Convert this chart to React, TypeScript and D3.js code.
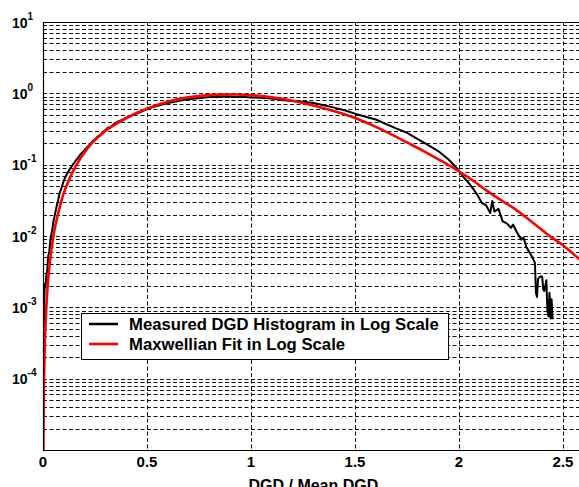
import React from "react";
import * as d3 from "d3";

const xTicks = [0, 0.5, 1, 1.5, 2, 2.5];
const xTickLabels = ["0", "0.5", "1", "1.5", "2", "2.5"];
const yExponents = [1, 0, -1, -2, -3, -4];
const xLabel = "DGD / Mean DGD";
const legendLabels = ["Measured DGD Histogram in Log Scale", "Maxwellian Fit in Log Scale"];

// Maxwellian fit
const fitX = [0, 0.003, 0.005, 0.008, 0.016, 0.025, 0.04, 0.056, 0.075, 0.096, 0.136, 0.184, 0.232, 0.296, 0.37, 0.45, 0.5, 0.6, 0.69, 0.77, 0.85, 0.93, 1.01, 1.1, 1.19, 1.27, 1.35, 1.43, 1.51, 1.59, 1.67, 1.75, 1.83, 1.91, 1.99, 2.06, 2.13, 2.2, 2.26, 2.32, 2.38, 2.44, 2.5, 2.55, 2.6];
const fitY = [0.000001, 0.000035, 0.0001, 0.00026, 0.001, 0.0025, 0.0063, 0.0125, 0.022, 0.037, 0.072, 0.128, 0.195, 0.29, 0.4, 0.53, 0.61, 0.76, 0.87, 0.93, 0.96, 0.965, 0.94, 0.88, 0.8, 0.71, 0.62, 0.53, 0.44, 0.35, 0.27, 0.205, 0.155, 0.115, 0.084, 0.062, 0.044, 0.032, 0.025, 0.0185, 0.0135, 0.0098, 0.0074, 0.0056, 0.0042];

// Measured histogram
const histX = [0.006, 0.006, 0.008, 0.012, 0.016, 0.02, 0.025, 0.03, 0.035, 0.04, 0.045, 0.05, 0.056, 0.064, 0.072, 0.08, 0.088, 0.096, 0.104, 0.112, 0.12, 0.128, 0.136, 0.148, 0.16, 0.168, 0.18, 0.192, 0.204, 0.216, 0.228, 0.24, 0.252, 0.264, 0.276, 0.29, 0.3, 0.3125, 0.325, 0.34, 0.36, 0.38, 0.4, 0.42, 0.44, 0.46, 0.48, 0.5, 0.53, 0.56, 0.6, 0.64, 0.68, 0.72, 0.76, 0.8, 0.84, 0.88, 0.92, 0.96, 1.0, 1.04, 1.08, 1.12, 1.16, 1.2, 1.25, 1.3, 1.35, 1.4, 1.45, 1.5, 1.55, 1.6, 1.65, 1.7, 1.75, 1.8, 1.85, 1.9, 1.95, 2.0, 2.02, 2.05, 2.07, 2.09, 2.11, 2.13, 2.15, 2.16, 2.17, 2.19, 2.21, 2.23, 2.25, 2.26, 2.28, 2.3, 2.31, 2.325, 2.34, 2.35, 2.365, 2.37, 2.375, 2.38, 2.39, 2.4, 2.405, 2.41, 2.42, 2.425, 2.43, 2.435, 2.44, 2.445, 2.45];
const histY = [0.0005, 0.0012, 0.0021, 0.0019, 0.0028, 0.0032, 0.0052, 0.006, 0.0085, 0.0105, 0.0125, 0.016, 0.019, 0.025, 0.031, 0.04, 0.046, 0.055, 0.064, 0.071, 0.078, 0.086, 0.093, 0.104, 0.117, 0.124, 0.14, 0.15, 0.166, 0.18, 0.195, 0.215, 0.228, 0.25, 0.262, 0.29, 0.305, 0.33, 0.335, 0.37, 0.4, 0.425, 0.455, 0.48, 0.51, 0.535, 0.565, 0.6, 0.64, 0.68, 0.73, 0.77, 0.81, 0.84, 0.86, 0.885, 0.89, 0.9, 0.89, 0.895, 0.875, 0.87, 0.85, 0.835, 0.8, 0.78, 0.76, 0.73, 0.68, 0.63, 0.58, 0.52, 0.47, 0.43, 0.37, 0.32, 0.28, 0.23, 0.19, 0.155, 0.118, 0.083, 0.068, 0.054, 0.045, 0.037, 0.029, 0.027, 0.021, 0.031, 0.022, 0.024, 0.016, 0.015, 0.013, 0.0145, 0.011, 0.0089, 0.0095, 0.0069, 0.0058, 0.0052, 0.0042, 0.0016, 0.0014, 0.0025, 0.0027, 0.0027, 0.0018, 0.0017, 0.0024, 0.0009, 0.00075, 0.0016, 0.0007, 0.0013, 0.00068];

const W = 579;
const H = 487;
const left = 43;
const top = 22;
const bottom = 450;
const xMax = 2.6;
const unitX = 208;
const right = left + xMax * unitX;

export default function App() {
  const x = d3.scaleLinear().domain([0, xMax]).range([left, right]);
  const y = d3.scaleLog().domain([1e-5, 10]).range([bottom, top]);

  const minorVals: number[] = [];
  for (let e = -5; e < 1; e++) {
    for (let m = 1; m <= 9; m++) {
      const v = m * Math.pow(10, e);
      if (v > 1e-5) minorVals.push(v);
    }
  }

  const fitPath =
    d3
      .line<[number, number]>()
      .x((d) => x(d[0]))
      .y((d) => y(Math.max(d[1], 1e-7)))
      .curve(d3.curveMonotoneX)(fitX.map((v, i) => [v, fitY[i]] as [number, number])) || "";
  const histPath =
    d3
      .line<[number, number]>()
      .x((d) => x(d[0]))
      .y((d) => y(d[1]))(histX.map((v, i) => [v, histY[i]] as [number, number])) || "";

  const font = "'Liberation Sans', Arial, sans-serif";
  const gridStroke = "#111";

  const lx = 81, ly = 313, lw = 367, lh = 46;

  return (
    <svg
      width={W}
      height={H}
      style={{ position: "absolute", left: 0, top: 0, background: "#fff" }}
      fontFamily={font}
      fontWeight="bold"
    >
      <defs>
        <clipPath id="plot">
          <rect x={left} y={top} width={right - left} height={bottom - top} />
        </clipPath>
      </defs>
      <rect x={0} y={0} width={W} height={H} fill="#fff" />
      {minorVals.map((v, i) => (
        <line
          key={"h" + i}
          x1={left}
          x2={right}
          y1={Math.round(y(v)) + 0.5}
          y2={Math.round(y(v)) + 0.5}
          stroke={gridStroke}
          strokeWidth={1}
          strokeDasharray="4,2.5"
        />
      ))}
      {xTicks.slice(1).map((t, i) => (
        <line
          key={"v" + i}
          x1={Math.round(x(t)) + 0.5}
          x2={Math.round(x(t)) + 0.5}
          y1={top}
          y2={bottom}
          stroke={gridStroke}
          strokeWidth={1}
          strokeDasharray="4,2.5"
        />
      ))}
      <g clipPath="url(#plot)">
        <path d={histPath} fill="none" stroke="#000" strokeWidth={2} strokeLinejoin="round" />
        <path d={fitPath} fill="none" stroke="#ff0000" strokeWidth={2.6} />
      </g>
      <line x1={left} x2={W} y1={top + 0.5} y2={top + 0.5} stroke="#000" strokeWidth={1.2} />
      <line x1={left} x2={W} y1={bottom + 0.5} y2={bottom + 0.5} stroke="#000" strokeWidth={1.2} />
      <line x1={left + 0.5} x2={left + 0.5} y1={top} y2={bottom} stroke="#000" strokeWidth={1.2} />
      {xTicks.map((t, i) => (
        <text key={"xt" + i} x={x(t)} y={467} textAnchor="middle" fontSize={15} fill="#000">
          {xTickLabels[i]}
        </text>
      ))}
      <text x={(left + right) / 2} y={491} textAnchor="middle" fontSize={16} fill="#000">
        {xLabel}
      </text>
      {yExponents.map((e, i) => (
        <text key={"yt" + i} x={12} y={y(Math.pow(10, e)) + 5.5} fontSize={14} fill="#000">
          10
          <tspan dy={-8} fontSize={10}>
            {String(e)}
          </tspan>
        </text>
      ))}
      <rect x={lx + 0.5} y={ly + 0.5} width={lw} height={lh} fill="#fff" stroke="#000" strokeWidth={1} />
      <line x1={89} x2={118} y1={324} y2={324} stroke="#000" strokeWidth={2.5} />
      <line x1={89} x2={118} y1={344} y2={344} stroke="#ff0000" strokeWidth={2.6} />
      <text x={129} y={329.8} fontSize={16.7} fill="#000">
        {legendLabels[0]}
      </text>
      <text x={129} y={349.8} fontSize={16.7} fill="#000">
        {legendLabels[1]}
      </text>
    </svg>
  );
}
